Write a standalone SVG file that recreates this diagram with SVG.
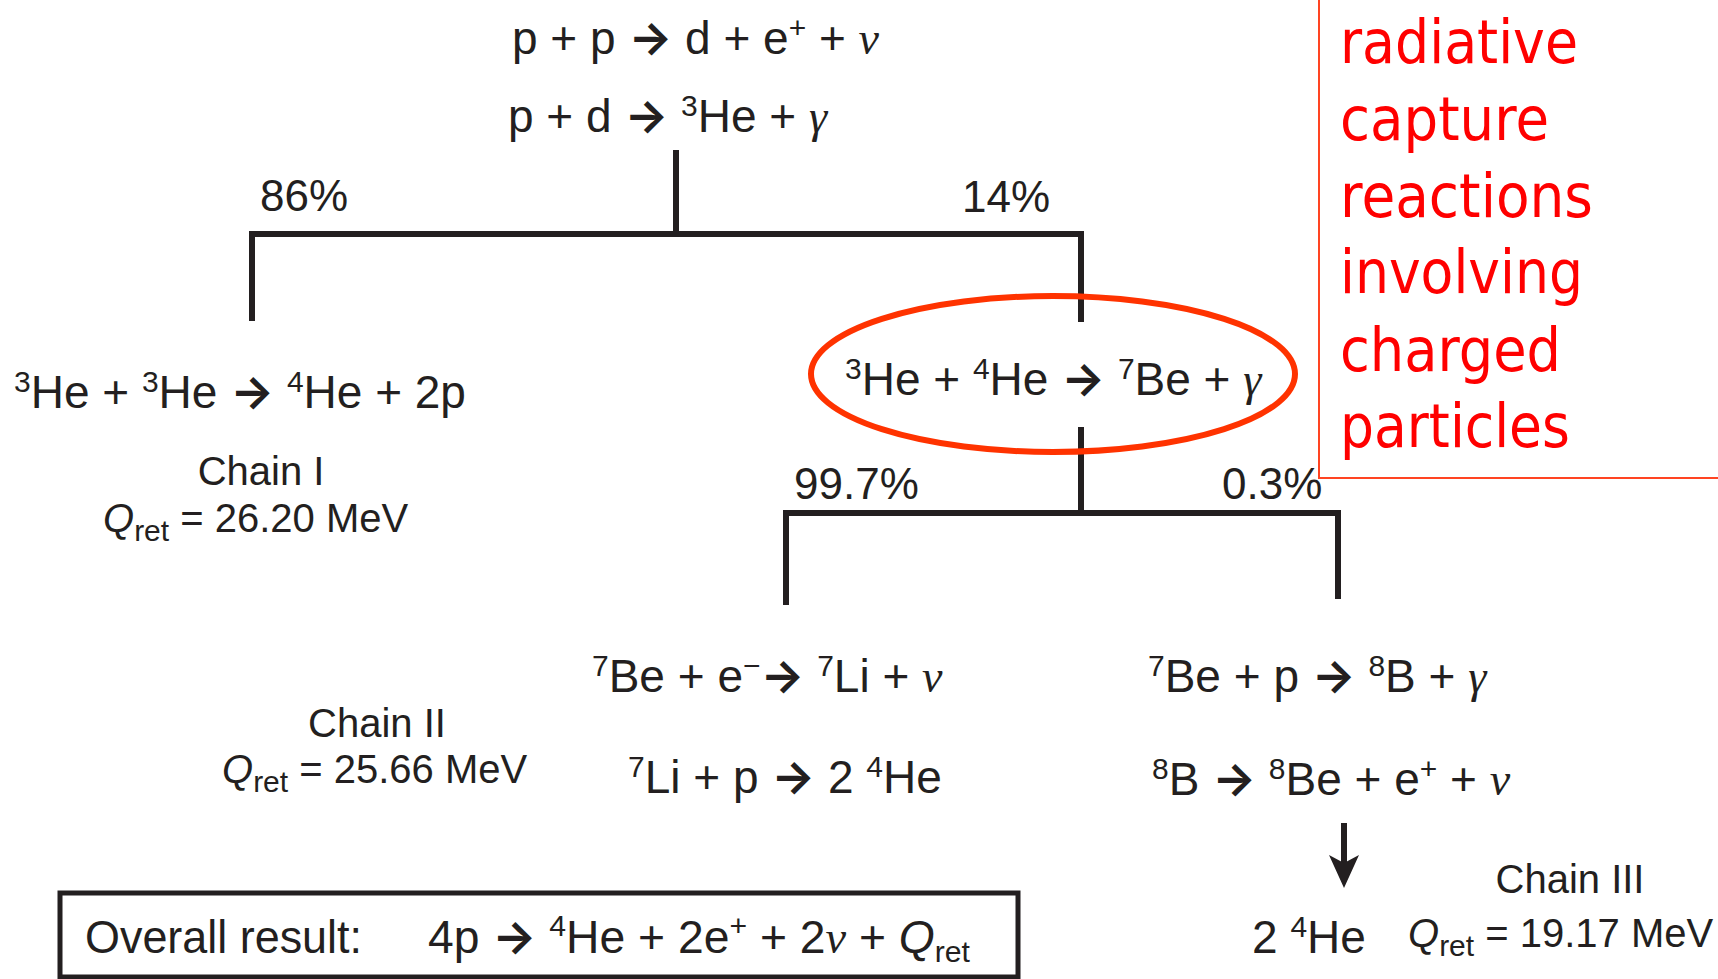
<svg xmlns="http://www.w3.org/2000/svg" width="1718" height="979" viewBox="0 0 1718 979">
<style>
.t{font-family:"Liberation Sans",Arial,sans-serif;font-size:46px;fill:#231f20}
.c{font-family:"Liberation Sans",Arial,sans-serif;font-size:40px;fill:#231f20}
.p{font-family:"Liberation Sans",Arial,sans-serif;font-size:44px;fill:#231f20}
.s{font-size:30px}
.g{font-family:"Liberation Serif","Times New Roman",serif;font-style:italic}
.i{font-style:italic}
.ar{font-family:Inter,"DejaVu Sans",sans-serif;font-weight:700}
.red{font-family:"DejaVu Sans",Verdana,sans-serif;font-size:60px;fill:#ff0000}
.ln{stroke:#231f20;stroke-width:6;fill:none;stroke-linejoin:miter}
</style>
<g id="connectors">
<path class="ln" d="M676 150V234"/>
<path class="ln" d="M252 321V234H1081V322"/>
<path class="ln" d="M1081 427V513"/>
<path class="ln" d="M786 605V513H1338V599"/>
<path class="ln" d="M1344 823V866" stroke-width="5"/>
<path d="M1329 855L1344 888L1359 855L1344 863Z" fill="#231f20"/>
</g>
<g id="pp">
<text class="t" x="512" y="54">p + p <tspan class="ar">→</tspan> d + e<tspan class="s" dy="-16">+</tspan><tspan dy="16"> + </tspan><tspan class="g">ν</tspan></text>
<text class="t" x="508" y="132">p + d <tspan class="ar">→</tspan> <tspan class="s" dy="-16">3</tspan><tspan dy="16">He + </tspan><tspan class="g">γ</tspan></text>
</g>
<g id="pct86"><text class="p" x="260" y="211">86%</text></g>
<g id="pct14"><text class="p" x="962" y="212">14%</text></g>
<g id="chain1">
<text class="t" x="14" y="408"><tspan class="s" dy="-16">3</tspan><tspan dy="16">He + </tspan><tspan class="s" dy="-16">3</tspan><tspan dy="16">He </tspan><tspan class="ar">→</tspan> <tspan class="s" dy="-16">4</tspan><tspan dy="16">He + 2p</tspan></text>
<text class="c" x="261" y="485" text-anchor="middle">Chain I</text>
<text class="c" x="103" y="532"><tspan class="i">Q</tspan><tspan class="s" dy="9">ret</tspan><tspan dy="-9"> = 26.20 MeV</tspan></text>
</g>
<g id="hebe">
<ellipse cx="1053" cy="374" rx="242" ry="78" fill="none" stroke="#ff3300" stroke-width="6"/>
<text class="t" x="845" y="395"><tspan class="s" dy="-16">3</tspan><tspan dy="16">He + </tspan><tspan class="s" dy="-16">4</tspan><tspan dy="16">He </tspan><tspan class="ar">→</tspan> <tspan class="s" dy="-16">7</tspan><tspan dy="16">Be + </tspan><tspan class="g">γ</tspan></text>
</g>
<g id="pct997"><text class="p" x="794" y="499">99.7%</text></g>
<g id="pct03"><text class="p" x="1222" y="499">0.3%</text></g>
<g id="chain2">
<text class="t" x="592" y="692"><tspan class="s" dy="-16">7</tspan><tspan dy="16">Be + e</tspan><tspan class="s" dy="-16">−</tspan><tspan class="ar" dy="16">→</tspan> <tspan class="s" dy="-16">7</tspan><tspan dy="16">Li + </tspan><tspan class="g">ν</tspan></text>
<text class="t" x="628" y="793"><tspan class="s" dy="-16">7</tspan><tspan dy="16">Li + p </tspan><tspan class="ar">→</tspan> 2 <tspan class="s" dy="-16">4</tspan><tspan dy="16">He</tspan></text>
<text class="c" x="377" y="737" text-anchor="middle">Chain II</text>
<text class="c" x="222" y="783"><tspan class="i">Q</tspan><tspan class="s" dy="9">ret</tspan><tspan dy="-9"> = 25.66 MeV</tspan></text>
</g>
<g id="chain3">
<text class="t" x="1148" y="692"><tspan class="s" dy="-16">7</tspan><tspan dy="16">Be + p </tspan><tspan class="ar">→</tspan> <tspan class="s" dy="-16">8</tspan><tspan dy="16">B + </tspan><tspan class="g">γ</tspan></text>
<text class="t" x="1152" y="795"><tspan class="s" dy="-16">8</tspan><tspan dy="16">B </tspan><tspan class="ar">→</tspan> <tspan class="s" dy="-16">8</tspan><tspan dy="16">Be + e</tspan><tspan class="s" dy="-16">+</tspan><tspan dy="16"> + </tspan><tspan class="g">ν</tspan></text>
<text class="t" x="1252" y="953">2 <tspan class="s" dy="-16">4</tspan><tspan dy="16">He</tspan></text>
<text class="c" x="1570" y="893" text-anchor="middle">Chain III</text>
<text class="c" x="1408" y="947"><tspan class="i">Q</tspan><tspan class="s" dy="9">ret</tspan><tspan dy="-9"> = 19.17 MeV</tspan></text>
</g>
<g id="overall">
<rect x="60" y="893" width="958" height="84" fill="none" stroke="#231f20" stroke-width="5"/>
<text class="t" x="85" y="953" font-size="48" textLength="277" lengthAdjust="spacingAndGlyphs">Overall result:</text>
<text class="t" x="428" y="953" font-size="48" textLength="542" lengthAdjust="spacingAndGlyphs">4p <tspan class="ar">→</tspan> <tspan class="s" dy="-17">4</tspan><tspan dy="17">He + 2e</tspan><tspan class="s" dy="-17">+</tspan><tspan dy="17"> + 2</tspan><tspan class="g">ν</tspan> + <tspan class="i">Q</tspan><tspan class="s" dy="9">ret</tspan></text>
</g>
<g id="note">
<path d="M1319 0V478H1718" fill="none" stroke="#ff4422" stroke-width="2"/>
<text class="red" x="1340" y="63" textLength="238" lengthAdjust="spacingAndGlyphs">radiative</text>
<text class="red" x="1340" y="140" textLength="209" lengthAdjust="spacingAndGlyphs">capture</text>
<text class="red" x="1340" y="217" textLength="253" lengthAdjust="spacingAndGlyphs">reactions</text>
<text class="red" x="1340" y="293" textLength="243" lengthAdjust="spacingAndGlyphs">involving</text>
<text class="red" x="1340" y="371" textLength="221" lengthAdjust="spacingAndGlyphs">charged</text>
<text class="red" x="1340" y="447" textLength="230" lengthAdjust="spacingAndGlyphs">particles</text>
</g>
</svg>
